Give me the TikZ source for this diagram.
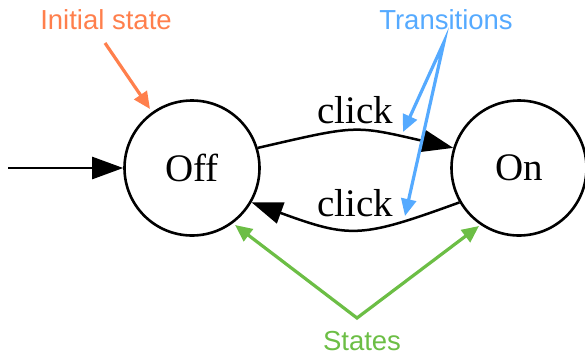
\documentclass[tikz,border=0pt]{standalone}
\usepackage{fontspec}
\setmainfont{Liberation Serif}
\newfontfamily\annfont{Liberation Sans}
\usetikzlibrary{arrows.meta}
\definecolor{annorange}{RGB}{255,127,76}
\definecolor{annblue}{RGB}{85,170,255}
\definecolor{anngreen}{RGB}{108,190,69}
\begin{document}
\begin{tikzpicture}[x=1pt,y=-1pt,
  state/.style={circle, draw, line width=2.6pt, minimum size=135pt, inner sep=0pt, font=\fontsize{39}{40}\selectfont},
  edge/.style={line width=2.5pt, -{Triangle[length=31pt,width=22pt]}},
  elabel/.style={font=\fontsize{39}{40}\selectfont, anchor=base, inner sep=0pt},
  ann/.style={font=\annfont\fontsize{27.5}{30}\selectfont, anchor=base, inner sep=0pt},
  annone/.style={line width=3.2pt, -{Triangle[length=17pt,width=15pt]}},
  anntwo/.style={line width=3.2pt, line join=miter, {Triangle[length=17pt,width=15pt]}-{Triangle[length=17pt,width=15pt]}},
]
\useasboundingbox (0,0) rectangle (585,357);
% states
\node[state] (off) at (192,168) {Off};
\node[state] (on) at (519,168) {On};
% initial arrow
\coordinate (start) at (8,168);
\draw[edge] (start) -- (off.west);
% transitions
\draw[edge] (off.17) .. controls +(100,-23) and +(-100,-23) .. (on.163);
\draw[edge] (on.210) .. controls +(-99,36) and +(99,36) .. (off.330);
\node[elabel] (clicktop) at (355,123) {click};
\node[elabel] (clickbot) at (355,216) {click};
% annotations
\node[ann, text=annorange] (initlbl) at (106,29) {Initial state};
\node[ann, text=annblue] (translbl) at (446,29) {Transitions};
\node[ann, text=anngreen] (stateslbl) at (362,350) {States};
\coordinate (oa) at (105,43);
\coordinate (ob) at (150,109);
\draw[annone, draw=annorange] (oa) -- (ob);
\coordinate (ba) at (403,132);
\coordinate (bb) at (444,42);
\coordinate (bc) at (405,216);
\draw[anntwo, draw=annblue] (ba) -- (bb) -- (bc);
\coordinate (ga) at (235,225);
\coordinate (gb) at (357,318);
\coordinate (gc) at (479,226);
\draw[anntwo, draw=anngreen] (ga) -- (gb) -- (gc);
\end{tikzpicture}
\end{document}
